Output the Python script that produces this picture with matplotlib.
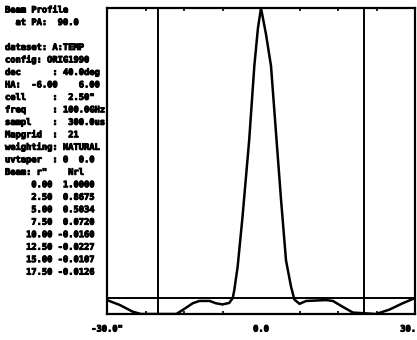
#!/usr/bin/env python3
import numpy as np
import matplotlib
matplotlib.use('Agg')
import matplotlib.pyplot as plt
import matplotlib.patheffects as pe

'''
Beam profile printout: parameter listing on the left, profile cut on the right
'''

# header / parameter listing
header_lines = ['Beam Profile', '  at PA:  90.0', '']
param_lines = [
    'dataset: A:TEMP',
    'config: ORIG1990',
    'dec      : 40.0deg',
    'HA:  -6.00    6.00',
    'cell     :  2.50"',
    'freq     : 100.0GHz',
    'sampl    :  300.0us',
    'Mapgrid  :  21',
    'weighting: NATURAL',
    'uvtaper  : 0  0.0',
    'Beam: r"    Nrl',
]

# tabulated radial profile
radius = [0.00, 2.50, 5.00, 7.50, 10.00, 12.50, 15.00, 17.50]
nrl = [1.0000, 0.8675, 0.5034, 0.0720, -0.0160, -0.0227, -0.0107, -0.0126]

# profile cut
cut_x = [-30.0, -27.5, -25.0, -23.4, -16.5, -14.9, -13.3, -12.0, -10.0, -8.8,
         -7.5, -6.2, -5.5, -5.2, -4.55, -3.6, -2.3, -1.3, -0.6, 0.0,
         0.97, 1.95, 2.92, 3.9, 4.87, 5.84, 6.5, 7.5, 8.8, 12.7,
         14.0, 15.9, 17.9, 22.4, 25.0, 27.6, 30.0]
cut_y = [-0.007, -0.024, -0.047, -0.055, -0.055, -0.037, -0.018, -0.010, -0.010, -0.018,
         -0.022, -0.017, 0.000, 0.028, 0.108, 0.280, 0.545, 0.800, 0.930, 1.000,
         0.910, 0.800, 0.570, 0.340, 0.130, 0.040, -0.005, -0.020, -0.010, -0.007,
         -0.010, -0.030, -0.050, -0.055, -0.040, -0.018, 0.000]

marker_x = [-20.0, 20.0]
xtick_vals = [-30.0, 0.0, 30.0]
xtick_text = ['-30.0"', '0.0', '30.']
minor_vals = [-22.5, -15.0, -7.5, 7.5, 15.0, 22.5]


def main():
    W, H = 417, 340
    fig = plt.figure(figsize=(W / 100, H / 100), dpi=100)
    fig.patch.set_facecolor('white')

    heavy = [pe.withStroke(linewidth=0.7, foreground='black')]
    font = dict(family='DejaVu Sans Mono', weight='bold', size=6.3, color='black',
                path_effects=heavy)

    lines = header_lines + param_lines
    lines += ['%9.2f %7.4f' % (r, v) for r, v in zip(radius, nrl)]
    for i, s in enumerate(lines):
        y = 10 + 12.48 * i
        fig.text(5 / W, 1 - y / H, s, ha='left', va='center', **font)

    ax = fig.add_axes([107 / W, 1 - 314 / H, (415 - 107) / W, (314 - 8) / H])
    ax.plot(cut_x, cut_y, color='black', lw=1.8, solid_joinstyle='round')
    ax.axhline(0, color='black', lw=1.4)
    for xv in marker_x:
        ax.axvline(xv, color='black', lw=1.4)

    ax.set_xlim(-30, 30)
    ax.set_ylim(-0.055, 1.0)
    for sp in ax.spines.values():
        sp.set_linewidth(1.6)

    ax.set_yticks([])
    ax.set_xticks(xtick_vals)
    ax.set_xticklabels([])
    ax.set_xticks(minor_vals, minor=True)
    ax.tick_params(axis='x', which='major', length=0)
    ax.tick_params(axis='x', which='minor', direction='in', length=2, width=1.2,
                   top=True, bottom=True)

    for xv, lab in zip(xtick_vals, xtick_text):
        ha = 'right' if xv == xtick_vals[-1] else 'center'
        dx = 1 if ha == 'right' else 0
        ax.annotate(lab, xy=(xv, 0), xycoords=('data', 'axes fraction'),
                    xytext=(dx, -15), textcoords='offset pixels',
                    ha=ha, va='center', annotation_clip=False, **font)

    fig.savefig('out.png', dpi=100, facecolor='white')


if __name__ == "__main__":
    main()
